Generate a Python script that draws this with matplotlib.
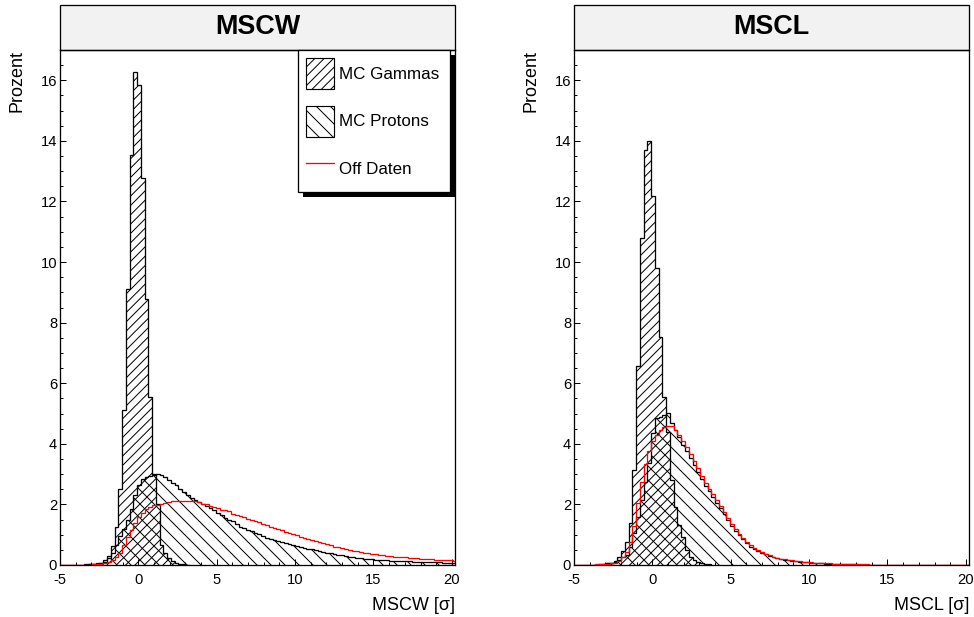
import numpy as np
import matplotlib
matplotlib.use('Agg')
import matplotlib.pyplot as plt
from matplotlib.patches import Patch, Rectangle
from matplotlib.lines import Line2D
from matplotlib.ticker import MultipleLocator
import matplotlib.transforms as mtransforms

# dpi picked so matplotlib's hatch spacing (dpi/3 per hatch char) matches ROOT
DPI = 84
def pt(px):
    # pixel size -> points at this dpi
    return px * 72.0 / DPI

plt.rcParams['font.family'] = ['Liberation Sans', 'DejaVu Sans']
plt.rcParams['axes.unicode_minus'] = False
plt.rcParams['hatch.linewidth'] = pt(1.0)

GAMMA_HATCH = '///'
PROTON_HATCH = '\\\\'

# binning: 0.24 wide bins, centres from -5.0 to 20.2
bin_width = 0.24
first_edge = -5.12
edges = first_edge + bin_width * np.arange(107)

panel_titles = ['MSCW', 'MSCL']
x_labels = ['MSCW [\u03c3]', 'MSCL [\u03c3]']
series_labels = ['MC Gammas', 'MC Protons', 'Off Daten']

# gammas are only non-zero in a few bins, so store first bin index too
gamma_first_bin = 8
gamma_mscw = [0.02, 0.03, 0.05, 0.08, 0.15, 0.30, 0.63, 1.27, 2.50, 5.12,
              9.12, 13.53, 16.29, 15.86, 12.77, 8.79, 5.54, 3.00, 2.00, 0.66,
              0.40, 0.23, 0.12, 0.07, 0.04, 0.02, 0.01]
gamma_mscl = [0.03, 0.05, 0.08, 0.14, 0.25, 0.45, 0.75, 1.40, 3.14, 6.56,
              10.80, 13.70, 14.00, 12.18, 9.81, 7.52, 5.56, 4.40, 2.81, 1.93,
              1.32, 0.94, 0.50, 0.27, 0.17, 0.10, 0.06, 0.03, 0.02]

proton_mscw = [0.01, 0.01, 0.01, 0.01, 0.01, 0.01, 0.01, 0.02, 0.02, 0.03,
               0.03, 0.05, 0.10, 0.22, 0.39, 0.66, 0.95, 1.20, 1.50, 1.85,
               2.31, 2.64, 2.83, 2.92, 2.95, 2.98, 3.00, 2.98, 2.90, 2.80,
               2.72, 2.65, 2.50, 2.40, 2.30, 2.20, 2.15, 2.08, 2.03, 1.95,
               1.87, 1.80, 1.72, 1.64, 1.56, 1.50, 1.44, 1.35, 1.27, 1.22,
               1.17, 1.12, 1.06, 1.01, 0.95, 0.90, 0.86, 0.83, 0.79, 0.76,
               0.72, 0.69, 0.66, 0.63, 0.60, 0.57, 0.54, 0.52, 0.49, 0.47,
               0.44, 0.41, 0.39, 0.36, 0.34, 0.32, 0.30, 0.28, 0.26, 0.24,
               0.22, 0.21, 0.20, 0.19, 0.18, 0.17, 0.16, 0.15, 0.14, 0.14,
               0.13, 0.13, 0.12, 0.12, 0.11, 0.11, 0.10, 0.10, 0.10, 0.09,
               0.09, 0.09, 0.08, 0.08, 0.08, 0.08]
offdata_mscw = [0.01, 0.01, 0.01, 0.01, 0.01, 0.01, 0.01, 0.01, 0.01, 0.02,
                0.03, 0.04, 0.06, 0.10, 0.15, 0.25, 0.40, 0.66, 0.94, 1.16,
                1.38, 1.60, 1.73, 1.85, 1.92, 1.97, 1.99, 2.02, 2.05, 2.09,
                2.10, 2.11, 2.12, 2.12, 2.12, 2.11, 2.10, 2.07, 2.03, 2.00,
                1.95, 1.91, 1.87, 1.83, 1.80, 1.77, 1.70, 1.66, 1.62, 1.58,
                1.53, 1.49, 1.45, 1.41, 1.36, 1.31, 1.27, 1.22, 1.18, 1.14,
                1.10, 1.06, 1.02, 0.98, 0.94, 0.90, 0.87, 0.83, 0.80, 0.77,
                0.73, 0.69, 0.65, 0.61, 0.58, 0.55, 0.52, 0.50, 0.47, 0.45,
                0.42, 0.40, 0.38, 0.37, 0.35, 0.34, 0.32, 0.31, 0.30, 0.28,
                0.27, 0.26, 0.25, 0.24, 0.23, 0.22, 0.21, 0.20, 0.19, 0.19,
                0.18, 0.17, 0.17, 0.16, 0.15, 0.14]

proton_mscl = [0.00, 0.00, 0.00, 0.01, 0.01, 0.01, 0.01, 0.02, 0.03, 0.05,
               0.07, 0.10, 0.17, 0.25, 0.33, 0.60, 1.06, 1.60, 2.15, 2.75,
               3.36, 4.35, 4.85, 4.90, 4.95, 5.01, 4.70, 4.45, 4.22, 3.95,
               3.75, 3.52, 3.30, 3.08, 2.83, 2.62, 2.43, 2.26, 2.06, 1.88,
               1.70, 1.50, 1.30, 1.12, 0.98, 0.85, 0.72, 0.60, 0.52, 0.45,
               0.40, 0.35, 0.30, 0.26, 0.22, 0.19, 0.17, 0.15, 0.13, 0.12,
               0.11, 0.10, 0.09, 0.08, 0.07, 0.06, 0.05, 0.04, 0.04, 0.03,
               0.03, 0.03, 0.02, 0.02, 0.02, 0.02, 0.01, 0.01, 0.01, 0.01,
               0.01, 0.01, 0.01, 0.01, 0.01, 0.01, 0.01, 0.01, 0.01, 0.01,
               0.01, 0.01, 0.01, 0.01, 0.01, 0.00, 0.00, 0.00, 0.00, 0.00,
               0.00, 0.00, 0.00, 0.00, 0.00, 0.00]
offdata_mscl = [0.00, 0.00, 0.00, 0.01, 0.01, 0.01, 0.02, 0.02, 0.03, 0.04,
                0.05, 0.08, 0.14, 0.25, 0.42, 0.75, 1.30, 2.05, 2.75, 3.35,
                3.75, 4.10, 4.30, 4.45, 4.55, 4.60, 4.58, 4.45, 4.30, 4.10,
                3.90, 3.65, 3.42, 3.20, 2.95, 2.72, 2.52, 2.33, 2.14, 1.95,
                1.76, 1.56, 1.36, 1.18, 1.03, 0.90, 0.77, 0.65, 0.56, 0.49,
                0.43, 0.37, 0.32, 0.28, 0.24, 0.21, 0.19, 0.17, 0.15, 0.13,
                0.12, 0.11, 0.10, 0.09, 0.08, 0.07, 0.06, 0.05, 0.05, 0.04,
                0.04, 0.03, 0.03, 0.03, 0.02, 0.02, 0.02, 0.02, 0.02, 0.01,
                0.01, 0.01, 0.01, 0.01, 0.01, 0.01, 0.01, 0.01, 0.01, 0.01,
                0.01, 0.01, 0.01, 0.01, 0.01, 0.00, 0.00, 0.00, 0.00, 0.00,
                0.00, 0.00, 0.00, 0.00, 0.00, 0.00]

panels = [(gamma_mscw, proton_mscw, offdata_mscw),
          (gamma_mscl, proton_mscl, offdata_mscl)]

W, H = 974, 617
fig = plt.figure(figsize=(W / DPI, H / DPI), dpi=DPI)

ax_left_px = [60, 574]
ax_w_px = 395
ax_top_px, ax_bot_px = 50, 565
title_h_px = 45

for i, (gam, pro, off) in enumerate(panels):
    ax = fig.add_axes([ax_left_px[i] / W, (H - ax_bot_px) / H,
                       ax_w_px / W, (ax_bot_px - ax_top_px) / H])

    g_edges = edges[gamma_first_bin:gamma_first_bin + len(gam) + 1]
    ax.stairs(pro, edges, fill=True, facecolor='none', edgecolor='black',
              hatch=PROTON_HATCH, linewidth=pt(1.3), zorder=2)
    ax.stairs(gam, g_edges, fill=True, facecolor='none', edgecolor='black',
              hatch=GAMMA_HATCH, linewidth=pt(1.3), zorder=2)
    ax.stairs(off, edges, color='red', linewidth=pt(1.3), zorder=3)

    ax.set_xlim(-5, 20.2)
    ax.set_ylim(0, 17)
    ax.xaxis.set_major_locator(MultipleLocator(5))
    ax.xaxis.set_minor_locator(MultipleLocator(1))
    ax.yaxis.set_major_locator(MultipleLocator(2))
    ax.yaxis.set_minor_locator(MultipleLocator(0.5))
    ax.tick_params(which='both', direction='in', top=False, right=False,
                   labelsize=pt(14.7), width=pt(1.0))
    ax.tick_params(which='major', length=pt(6))
    ax.tick_params(which='minor', length=pt(3))
    ax.tick_params(axis='x', pad=pt(8))
    ax.tick_params(axis='y', pad=pt(3))
    for s in ax.spines.values():
        s.set_linewidth(pt(1.3))

    ax.set_ylabel('Prozent', fontsize=pt(18), loc='top')
    ax.yaxis.set_label_coords(-0.088, 1.0)
    ax.set_xlabel(x_labels[i], fontsize=pt(18), loc='right')
    ax.xaxis.set_label_coords(1.0, -0.062)

    # ROOT style title box above the frame
    th = title_h_px / (ax_bot_px - ax_top_px)
    ax.add_patch(Rectangle((0, 1.0), 1.0, th, transform=ax.transAxes,
                           facecolor='#f2f2f2', edgecolor='black',
                           linewidth=pt(1.3), clip_on=False))
    ax.text(0.5, 1.0 + th / 2, panel_titles[i], transform=ax.transAxes,
            ha='center', va='center', fontsize=pt(27), fontweight='bold')

    if i == 0:
        handles = [Patch(facecolor='none', edgecolor='black', hatch=GAMMA_HATCH),
                   Patch(facecolor='none', edgecolor='black', hatch=PROTON_HATCH),
                   Line2D([], [], color='red', linewidth=pt(1.3))]
        leg = ax.legend(handles, series_labels, loc='upper left',
                        bbox_to_anchor=(0.6025, 1.0, 0.3845, 0.0),
                        mode='expand', fontsize=pt(17), fancybox=False,
                        edgecolor='black', framealpha=1.0,
                        handlelength=1.6, handleheight=2.4,
                        handletextpad=0.3, labelspacing=0.98,
                        borderpad=0.5, borderaxespad=0.0)
        leg.get_frame().set_linewidth(pt(1.3))
        leg_ax = ax

fig.canvas.draw()
bb = leg.get_window_extent()
leg_ax.add_patch(Rectangle((bb.x0 + 5, bb.y0 - 5), bb.width, bb.height,
                           transform=mtransforms.IdentityTransform(),
                           facecolor='black', edgecolor='none',
                           clip_on=False, zorder=4.5))

fig.savefig('out.png', dpi=DPI)
